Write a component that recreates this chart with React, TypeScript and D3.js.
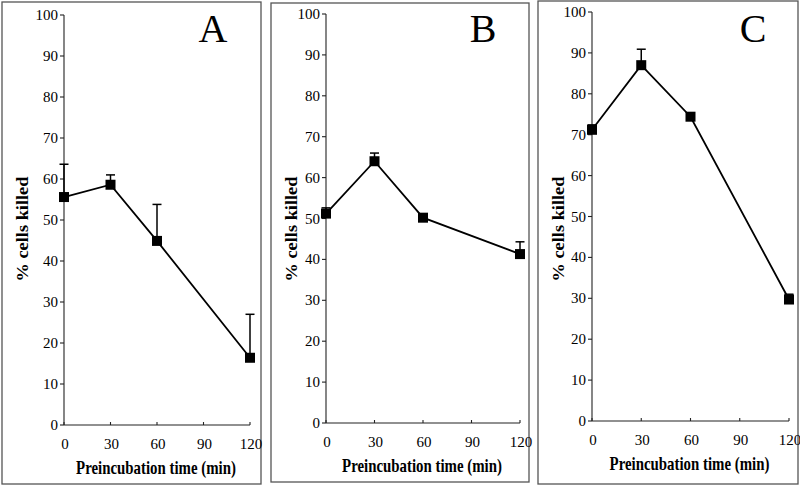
import React, { useLayoutEffect, useRef } from "react";
import * as d3 from "d3";

const times = [0, 30, 60, 120];
const xTicks = [0, 30, 60, 90, 120];
const yTicks = [0, 10, 20, 30, 40, 50, 60, 70, 80, 90, 100];

const killedA = [55.6, 58.6, 44.9, 16.4];
const errTopA = [63.6, 61.0, 53.8, 27.0];
const killedB = [51.2, 64.0, 50.2, 41.3];
const errTopB = [52.6, 66.0, 50.6, 44.3];
const killedC = [71.2, 87.0, 74.4, 29.7];
const errTopC = [72.4, 90.9, 75.3, 31.0];

const panelLabels = ["A", "B", "C"];
const xTitle = "Preincubation time (min)";
const yTitle = "% cells killed";

const panels = [
  { label: panelLabels[0], values: killedA, tops: errTopA,
    box: [2, 2, 261, 484], x0: 64, x1: 250, y0: 425, y1: 15, letterX: 213 },
  { label: panelLabels[1], values: killedB, tops: errTopB,
    box: [271, 3, 529, 482], x0: 326, x1: 520, y0: 423, y1: 14, letterX: 483 },
  { label: panelLabels[2], values: killedC, tops: errTopC,
    box: [538, 1, 798, 484], x0: 592, x1: 789, y0: 421, y1: 12, letterX: 753 },
];

const FONT = "Liberation Serif, Times New Roman, serif";

function FitText({ cx, cy, width, rotate, fontSize, children }: any) {
  const ref = useRef<SVGTextElement>(null);
  const gref = useRef<SVGGElement>(null);
  useLayoutEffect(() => {
    if (!ref.current || !gref.current) return;
    const len = ref.current.getComputedTextLength();
    const s = len > 0 ? width / len : 1;
    gref.current.setAttribute(
      "transform",
      `translate(${cx},${cy}) rotate(${rotate}) scale(${s},1)`
    );
  }, [cx, cy, width, rotate]);
  return (
    <g ref={gref} transform={`translate(${cx},${cy}) rotate(${rotate})`}>
      <text ref={ref} x={0} y={0} textAnchor="middle" fontFamily={FONT} fontSize={fontSize} fontWeight="bold" fill="#000">{children}</text>
    </g>
  );
}

function Panel({ p }: { p: any }) {
  const x = d3.scaleLinear().domain([0, 120]).range([p.x0, p.x1]);
  const y = d3.scaleLinear().domain([0, 100]).range([p.y0, p.y1]);
  const pts = times.map((t, i) => [x(t), y(p.values[i])] as [number, number]);
  const line = d3.line()(pts) || "";
  const [bx0, by0, bx1, by1] = p.box;
  const sq = 10;
  const cap = 4.5;
  return (
    <g>
      <rect x={bx0} y={by0} width={bx1 - bx0} height={by1 - by0} fill="none" stroke="#555" strokeWidth={1.3} />
      <line x1={p.x0} x2={p.x0} y1={y(0)} y2={y(100)} stroke="#222" strokeWidth={1.1} />
      {yTicks.map((t) => (
        <g key={"y" + t}>
          <line x1={p.x0 - 4} x2={p.x0} y1={y(t)} y2={y(t)} stroke="#222" strokeWidth={1.1} />
          <text x={p.x0 - 6} y={y(t) + 5} textAnchor="end" fontFamily={FONT} fontSize={15} fill="#000">{t}</text>
        </g>
      ))}
      <line x1={x(0)} x2={x(120)} y1={p.y0} y2={p.y0} stroke="#222" strokeWidth={1.1} />
      {xTicks.map((t) => (
        <g key={"x" + t}>
          <line x1={x(t)} x2={x(t)} y1={p.y0} y2={p.y0 - 3} stroke="#222" strokeWidth={1.1} />
          <text x={x(t) + 1} y={p.y0 + 24} textAnchor="middle" fontFamily={FONT} fontSize={15} fill="#000">{t}</text>
        </g>
      ))}
      <FitText cx={(x(0) + x(120)) / 2 - 1} cy={p.y0 + 49} width={160} rotate={0} fontSize={18}>{xTitle}</FitText>
      <FitText cx={bx0 + 26} cy={229} width={105} rotate={-90} fontSize={17}>{yTitle}</FitText>
      <text x={p.letterX} y={42} textAnchor="middle" fontFamily={FONT} fontSize={40} fill="#000">{p.label}</text>
      {times.map((t, i) => (
        <g key={"e" + t}>
          <line x1={x(t)} x2={x(t)} y1={y(p.values[i])} y2={y(p.tops[i])} stroke="#000" strokeWidth={1.5} />
          <line x1={x(t) - cap} x2={x(t) + cap} y1={y(p.tops[i])} y2={y(p.tops[i])} stroke="#000" strokeWidth={1.5} />
        </g>
      ))}
      <path d={line} fill="none" stroke="#000" strokeWidth={1.8} />
      {pts.map(([px, py], i) => (
        <rect key={"m" + i} x={px - sq / 2} y={py - sq / 2} width={sq} height={sq} fill="#000" />
      ))}
    </g>
  );
}

export default function App() {
  return (
    <svg width={800} height={486} style={{ position: "absolute", left: 0, top: 0, background: "#fff" }}>
      <rect x={0} y={0} width={800} height={486} fill="#fff" />
      {panels.map((p) => (
        <Panel key={p.label} p={p} />
      ))}
    </svg>
  );
}
